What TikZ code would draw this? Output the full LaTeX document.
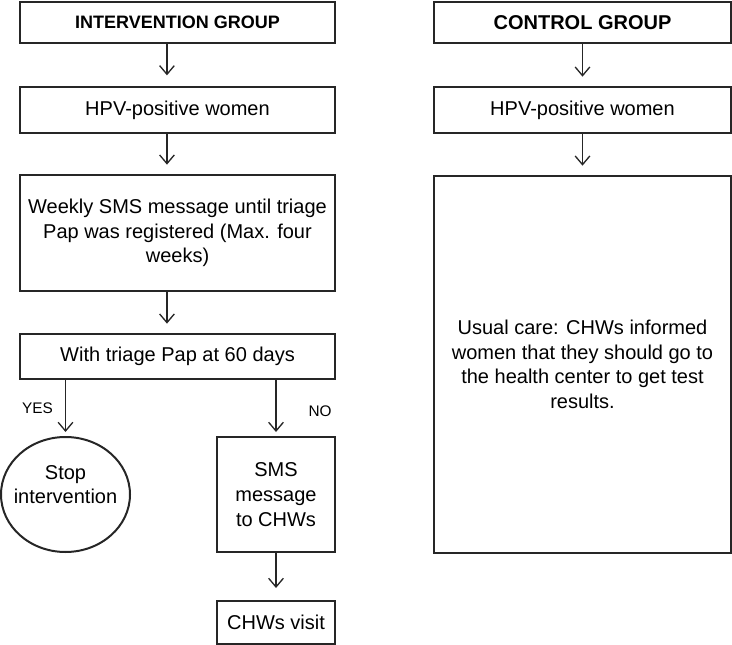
\documentclass[tikz,border=0pt]{standalone}
\usepackage{fontspec}
\setmainfont{Liberation Sans}
\usetikzlibrary{shapes.geometric, arrows.meta}
\usetikzlibrary{positioning}

\begin{document}
\begin{tikzpicture}[x=0.75pt,y=0.75pt,yscale=-1,xscale=1]
  \useasboundingbox (0,0) rectangle (732,645);
  \tikzstyle{box} = [draw=black!85, line width=1.5pt, rectangle, align=center, inner sep=2pt, font=\fontsize{15}{18.5}\selectfont]
  \tikzstyle{head} = [box, font=\fontsize{14.5}{17}\selectfont\bfseries]
  \tikzstyle{arrow} = [draw=black!85, line width=1pt, -{Straight Barb[length=6.5pt,width=11pt]}]
  \tikzstyle{lab} = [inner sep=0pt, font=\fontsize{11.5}{14}\selectfont]
  %Intervention side
  \node[head, font=\fontsize{13.5}{16}\selectfont\bfseries, minimum width=236.25pt, minimum height=30.75pt] (ig) at (177.5,22.5) {INTERVENTION GROUP};
  \node[box, minimum width=236.25pt, minimum height=34.5pt] (hpvi) at (177.5,110) {HPV-positive women};
  \node[box, minimum width=236.25pt, minimum height=87pt] (weekly) at (177.5,233)
    {Weekly SMS message until triage\\Pap was registered (Max. four\\weeks)};
  \node[box, minimum width=236.25pt, minimum height=33.75pt] (triage) at (177.5,356.5) {With triage Pap at 60 days};
  \node[draw=black!85, line width=1.5pt, ellipse, inner sep=0pt, minimum width=96.75pt, minimum height=86.25pt] (stop) at (65.5,494.5) {};
  \node[align=center, inner sep=0pt, font=\fontsize{15}{18.5}\selectfont] (stoptext) at (65.5,484.5) {Stop\\intervention};
  \node[box, minimum width=88.5pt, minimum height=86.25pt] (sms) at (276,494.5) {SMS\\message\\to CHWs};
  \node[box, minimum width=88.5pt, minimum height=32.25pt] (visit) at (276,622.5) {CHWs visit};
  %Control side
  \node[head, font=\fontsize{15}{17.5}\selectfont\bfseries, minimum width=222.75pt, minimum height=30.75pt] (cg) at (582.5,22.5) {CONTROL GROUP};
  \node[box, minimum width=222.75pt, minimum height=34.5pt] (hpvc) at (582.5,110) {HPV-positive women};
  \node[box, minimum width=222.75pt, minimum height=282.75pt] (usual) at (582.5,364.5)
    {Usual care: CHWs informed\\women that they should go to\\the health center to get test\\results.};
  %Draw arrows
  \draw[arrow, shorten >=8pt] ([xshift=-7.9pt]ig.south) -- ([xshift=-7.9pt]hpvi.north);
  \draw[arrow, shorten >=7pt] ([xshift=-7.9pt]hpvi.south) -- ([xshift=-7.9pt]weekly.north);
  \draw[arrow, shorten >=7pt] ([xshift=-7.9pt]weekly.south) -- ([xshift=-7.9pt]triage.north);
  \draw[arrow, shorten >=3pt] (triage.south -| stop.north) -- (stop.north);
  \draw[arrow, shorten >=3pt] (triage.south -| sms.north) -- (sms.north);
  \draw[arrow, shorten >=9pt] (sms) -- (visit);
  \draw[arrow, shorten >=7pt] (cg) -- (hpvc);
  \draw[arrow, shorten >=7pt] (hpvc) -- (usual);
  % Label the branches
  \node[lab] (yes) at (37.5,408) {YES};
  \node[lab] (no) at (320,411) {NO};
\end{tikzpicture}
\end{document}
